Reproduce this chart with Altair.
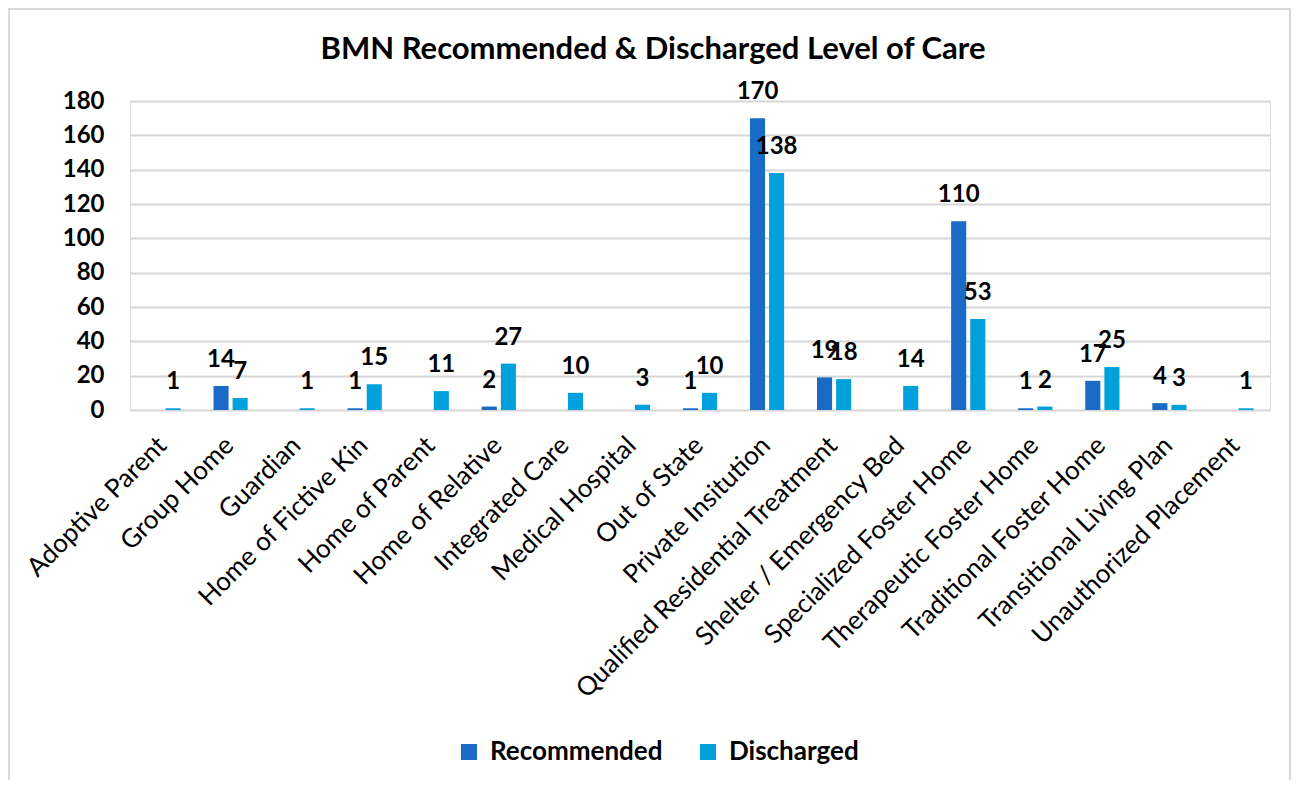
import altair as alt
import pandas as pd

categories = [
    "Adoptive Parent", "Group Home", "Guardian", "Home of Fictive Kin",
    "Home of Parent", "Home of Relative", "Integrated Care", "Medical Hospital",
    "Out of State", "Private Insitution", "Qualified Residential Treatment",
    "Shelter / Emergency Bed", "Specialized Foster Home", "Therapeutic Foster Home",
    "Traditional Foster Home", "Transitional Living Plan", "Unauthorized Placement",
]
recommended = [None, 14, None, 1, None, 2, None, None, 1, 170, 19, None, 110, 1, 17, 4, None]
discharged = [1, 7, 1, 15, 11, 27, 10, 3, 10, 138, 18, 14, 53, 2, 25, 3, 1]
series = ["Recommended", "Discharged"]
colors = ["#1A6BC6", "#00A0DC"]
y_ticks = [0, 20, 40, 60, 80, 100, 120, 140, 160, 180]

rows = []
for c, r, d in zip(categories, recommended, discharged):
    if r is not None:
        rows.append({"cat": c, "series": "Recommended", "value": r})
    if d is not None:
        rows.append({"cat": c, "series": "Discharged", "value": d})
df = pd.DataFrame(rows)

FONT = "Lato"

x = alt.X(
    "cat:N", sort=categories, title=None,
    scale=alt.Scale(paddingInner=0.49, paddingOuter=0.245),
    axis=alt.Axis(labelAngle=-45, labelAlign="right", labelBaseline="middle",
                  labelFontSize=26, labelFont=FONT, labelColor="#000000",
                  labelPadding=31, labelOffset=-1, ticks=False, domain=False,
                  labelLimit=400),
)
xo = alt.XOffset("series:N", sort=series,
                 scale=alt.Scale(paddingInner=0.21, paddingOuter=0))
y = alt.Y(
    "value:Q", title=None,
    scale=alt.Scale(domain=[0, 180], nice=False),
    axis=alt.Axis(values=y_ticks, labelFontSize=24, labelFontWeight="bold",
                  labelFont=FONT, labelColor="#000000", ticks=False, domain=False,
                  labelPadding=26, gridColor="#D6D6D6", gridWidth=1.8),
)
color = alt.Color(
    "series:N", sort=series, scale=alt.Scale(domain=series, range=colors),
    legend=alt.Legend(orient="none", legendX=326, legendY=638, direction="horizontal",
                      title=None, symbolType="square", symbolSize=256,
                      symbolStrokeWidth=0, labelFontSize=26, labelFontWeight="bold",
                      labelFont=FONT, labelColor="#000000", columnPadding=32,
                      labelOffset=8, labelLimit=400),
)

base = alt.Chart(df)
bars = base.mark_bar().encode(x=x, xOffset=xo, y=y, color=color)
labels = base.mark_text(baseline="alphabetic", dy=-19, fontSize=24,
                        fontWeight="bold", font=FONT, color="#000000").encode(
    x=x, xOffset=xo, y=y, text=alt.Text("value:Q"))

border = alt.Chart(pd.DataFrame({"a": [0]})).mark_rect(
    fill="transparent", stroke="#D9D9D9", strokeWidth=2).encode(
    x=alt.value(-121), x2=alt.value(1160), y=alt.value(-92), y2=alt.value(690))

chart = alt.layer(border, bars, labels).properties(
    width=1140, height=309,
    title=alt.TitleParams("BMN Recommended & Discharged Level of Care",
                          fontSize=31, fontWeight="bold", font=FONT,
                          color="#000000", anchor="middle", dx=-47, offset=-58),
    autosize=alt.AutoSizeParams(type="none"),
    padding={"left": 122, "top": 93, "right": 22, "bottom": 370},
).configure_view(stroke=None).configure(background="white")

chart.save("out.html", embed_options={"renderer": "svg", "actions": False})
